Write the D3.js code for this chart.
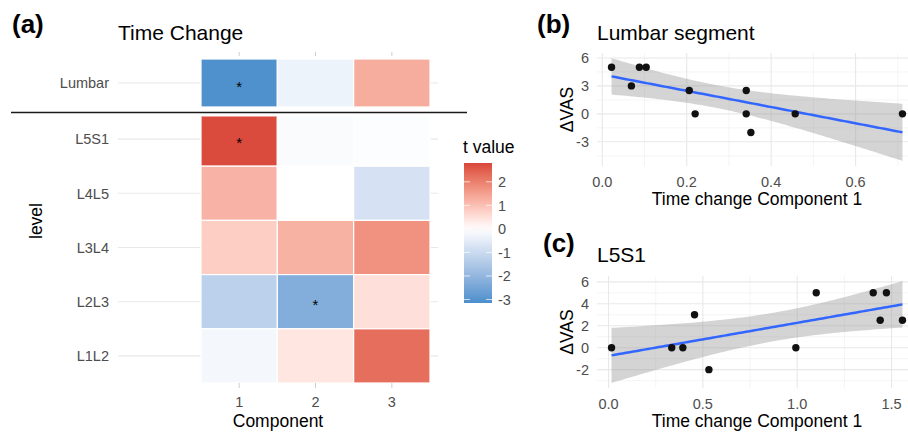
<!DOCTYPE html>
<html><head><meta charset="utf-8">
<script src="https://cdn.jsdelivr.net/npm/d3@7"></script>
<style>body{margin:0;background:#fff} text{font-family:"Liberation Sans",Arial,Helvetica,sans-serif}</style>
</head><body><svg id="c" width="908" height="433"></svg>
<script>
// ---------- data ----------
const components = ["1", "2", "3"];
const topLevels = ["Lumbar"];
const levels = ["L5S1", "L4L5", "L3L4", "L2L3", "L1L2"];
const tLumbar = [-3.1, -0.33, 1.3];
const tL5S1 = [2.75, -0.12, -0.05];
const tL4L5 = [1.2, 0.0, -0.77];
const tL3L4 = [0.78, 1.22, 1.73];
const tL2L3 = [-1.25, -2.27, 0.5];
const tL1L2 = [-0.2, 0.39, 2.26];
const significant = [["Lumbar", "1"], ["L5S1", "1"], ["L2L3", "2"]];
const legendTicks = [-3, -2, -1, 0, 1, 2];
const tLimits = [-3.15, 2.8];

const lumbarX = [0.022, 0.069, 0.088, 0.104, 0.206, 0.22, 0.341, 0.341, 0.352, 0.457, 0.711];
const lumbarY = [5, 3, 5, 5, 2.5, 0, 2.5, 0, -2, 0, 0];
const l5s1X = [0.016, 0.335, 0.394, 0.456, 0.532, 0.993, 1.101, 1.403, 1.44, 1.473, 1.558];
const l5s1Y = [0, 0, 0, 3, -2, 0, 5, 5, 2.5, 5, 2.5];
const lumbarXTicks = [0, 0.2, 0.4, 0.6];
const lumbarYTicks = [-3, 0, 3, 6];
const l5s1XTicks = [0, 0.5, 1, 1.5];
const l5s1YTicks = [-2, 0, 2, 4, 6];

// ---------- setup ----------
const svg = d3.select("#c");
const GRID = "#e8e8e8", TICKTXT = "#4d4d4d";
const color = d3.scaleLinear().domain([tLimits[0], 0, tLimits[1]])
  .range(["#4a8fcc", "#ffffff", "#d9463a"]).interpolate(d3.interpolateLab).clamp(true);

function txt(g, x, y, s, opts = {}) {
  const t = g.append("text").attr("x", x).attr("y", y).text(s)
    .attr("font-size", opts.size || 14).attr("fill", opts.fill || "#1a1a1a");
  if (opts.anchor) t.attr("text-anchor", opts.anchor);
  if (opts.weight) t.attr("font-weight", opts.weight);
  if (opts.rotate) t.attr("transform", `rotate(-90,${x},${y})`);
  return t;
}

// ---------- panel (a): heatmap ----------
const rows = { Lumbar: tLumbar, L5S1: tL5S1, L4L5: tL4L5, L3L4: tL3L4, L2L3: tL2L3, L1L2: tL1L2 };
const x = d3.scaleBand().domain(components).range([201, 430]);
const yTop = d3.scaleBand().domain(topLevels).range([59, 107]);
const yBot = d3.scaleBand().domain(levels).range([112, 383]);
const gridX0 = 118, gridX1 = 438;

const ga = svg.append("g");
txt(ga, 12, 33, "(a)", { size: 26, weight: "bold", fill: "#000" });
txt(ga, 118, 40, "Time Change", { size: 21, fill: "#000" });

function heatPanel(yScale, names, clipTop) {
  const g = ga.append("g");
  g.selectAll(".gl").data(names).join("line")
    .attr("x1", gridX0).attr("x2", gridX1)
    .attr("y1", d => yScale(d) + yScale.bandwidth() / 2)
    .attr("y2", d => yScale(d) + yScale.bandwidth() / 2)
    .attr("stroke", GRID).attr("stroke-width", 1.1);
  names.forEach(n => txt(g, 109, yScale(n) + yScale.bandwidth() / 2, n, { size: 14.5, fill: TICKTXT, anchor: "end" }).attr("dy", "0.36em"));
  const cells = [];
  names.forEach(n => components.forEach((c, i) => cells.push({ level: n, comp: c, t: rows[n][i] })));
  const id = "clip" + names[0];
  svg.append("clipPath").attr("id", id).append("rect")
    .attr("x", 0).attr("y", clipTop).attr("width", 908).attr("height", 433);
  g.append("g").attr("clip-path", `url(#${id})`).selectAll("rect").data(cells).join("rect")
    .attr("x", d => x(d.comp)).attr("y", d => yScale(d.level))
    .attr("width", x.bandwidth()).attr("height", yScale.bandwidth())
    .attr("fill", d => color(d.t)).attr("stroke", "#fff").attr("stroke-width", 1.2);
  significant.filter(s => names.includes(s[0])).forEach(s => {
    txt(g, x(s[1]) + x.bandwidth() / 2, yScale(s[0]) + yScale.bandwidth() / 2 + 8.5, "*", { size: 15, fill: "#000", anchor: "middle" });
  });
  return g;
}
heatPanel(yTop, topLevels, 0);
heatPanel(yBot, levels, 116.5);

components.forEach(c => {
  const cx = x(c) + x.bandwidth() / 2;
  ga.append("line").attr("x1", cx).attr("x2", cx).attr("y1", 52).attr("y2", 56).attr("stroke", "#cfcfcf");
  ga.append("line").attr("x1", cx).attr("x2", cx).attr("y1", 383).attr("y2", 388).attr("stroke", "#cfcfcf");
  txt(ga, cx, 407, c, { size: 14.5, fill: TICKTXT, anchor: "middle" });
});
txt(ga, (gridX0 + gridX1) / 2, 427, "Component", { size: 17.5, fill: "#000", anchor: "middle" });
txt(ga, 42, 221, "level", { size: 17.5, fill: "#000", anchor: "middle", rotate: true });
ga.append("line").attr("x1", 11).attr("x2", 467).attr("y1", 112.5).attr("y2", 112.5)
  .attr("stroke", "#1a1a1a").attr("stroke-width", 1.6);

// legend
const lg = svg.append("g");
txt(lg, 463, 153, "t value", { size: 17.5, fill: "#000" });
const ly = d3.scaleLinear().domain(tLimits).range([303, 163]);
const grad = svg.append("defs").append("linearGradient").attr("id", "tg")
  .attr("x1", 0).attr("y1", 1).attr("x2", 0).attr("y2", 0);
d3.range(0, 1.0001, 0.05).forEach(f => {
  const v = tLimits[0] + f * (tLimits[1] - tLimits[0]);
  grad.append("stop").attr("offset", f).attr("stop-color", color(v));
});
lg.append("rect").attr("x", 464).attr("y", 163).attr("width", 28).attr("height", 140).attr("fill", "url(#tg)");
legendTicks.forEach(v => {
  lg.append("line").attr("x1", 464).attr("x2", 470).attr("y1", ly(v)).attr("y2", ly(v)).attr("stroke", "#fff").attr("stroke-opacity", 0.7);
  lg.append("line").attr("x1", 486).attr("x2", 492).attr("y1", ly(v)).attr("y2", ly(v)).attr("stroke", "#fff").attr("stroke-opacity", 0.7);
  txt(lg, 498, ly(v), String(v), { size: 14.5, fill: TICKTXT }).attr("dy", "0.36em");
});

// ---------- scatter panels ----------
const TCRIT = 2.262157; // t quantile 0.975, df = 9
function fit(xs, ys) {
  const n = xs.length, mx = d3.mean(xs), my = d3.mean(ys);
  let sxy = 0, sxx = 0;
  xs.forEach((xv, i) => { sxy += (xv - mx) * (ys[i] - my); sxx += (xv - mx) ** 2; });
  const b = sxy / sxx, a = my - b * mx;
  let sse = 0; xs.forEach((xv, i) => { sse += (ys[i] - a - b * xv) ** 2; });
  const s = Math.sqrt(sse / (n - 2));
  const [x0, x1] = d3.extent(xs);
  return d3.range(0, 81).map(k => {
    const xv = x0 + (x1 - x0) * k / 80, yv = a + b * xv;
    const se = s * Math.sqrt(1 / n + (xv - mx) ** 2 / sxx);
    return { x: xv, y: yv, lo: yv - TCRIT * se, hi: yv + TCRIT * se };
  });
}
function expand(ext) { const r = ext[1] - ext[0]; return [ext[0] - 0.05 * r, ext[1] + 0.05 * r]; }

function scatter(o) {
  const g = svg.append("g");
  const pts = fit(o.xs, o.ys);
  const xd = expand(d3.extent(o.xs));
  const yd = expand([Math.min(d3.min(pts, d => d.lo), d3.min(o.ys)), Math.max(d3.max(pts, d => d.hi), d3.max(o.ys))]);
  const sx = d3.scaleLinear().domain(xd).range([597, 917]);
  const sy = d3.scaleLinear().domain(yd).range(o.yr);
  const [top, bot] = [o.yr[1], o.yr[0]];
  const xt = o.xticks, yt = o.yticks;
  const xstep = xt[1] - xt[0], ystep = yt[1] - yt[0];
  const xminor = d3.range(xt[0] - xstep / 2, xd[1], xstep).filter(v => v > xd[0]);
  const yminor = d3.range(yt[0] - ystep / 2, yd[1], ystep).filter(v => v > yd[0]);
  g.selectAll(".xm").data(xminor).join("line").attr("x1", d => sx(d)).attr("x2", d => sx(d))
    .attr("y1", top).attr("y2", bot).attr("stroke", "#f1f1f1").attr("stroke-width", 0.8);
  g.selectAll(".ym").data(yminor).join("line").attr("y1", d => sy(d)).attr("y2", d => sy(d))
    .attr("x1", 597).attr("x2", 917).attr("stroke", "#f1f1f1").attr("stroke-width", 0.8);
  g.selectAll(".xg").data(xt).join("line").attr("x1", d => sx(d)).attr("x2", d => sx(d))
    .attr("y1", top).attr("y2", bot).attr("stroke", GRID).attr("stroke-width", 1.1);
  g.selectAll(".yg").data(yt).join("line").attr("y1", d => sy(d)).attr("y2", d => sy(d))
    .attr("x1", 597).attr("x2", 917).attr("stroke", GRID).attr("stroke-width", 1.1);
  g.append("path").datum(pts).attr("d", d3.area().x(d => sx(d.x)).y0(d => sy(d.lo)).y1(d => sy(d.hi)))
    .attr("fill", "#999999").attr("fill-opacity", 0.42);
  g.append("path").datum(pts).attr("d", d3.line().x(d => sx(d.x)).y(d => sy(d.y)))
    .attr("fill", "none").attr("stroke", "#3366FF").attr("stroke-width", 2.5);
  g.selectAll("circle").data(o.xs).join("circle").attr("cx", d => sx(d)).attr("cy", (d, i) => sy(o.ys[i]))
    .attr("r", 3.7).attr("fill", "#111");
  xt.forEach(v => txt(g, sx(v), bot + 21, o.xfmt(v), { size: 14.5, fill: TICKTXT, anchor: "middle" }));
  yt.forEach(v => txt(g, 589, sy(v), String(v), { size: 14.5, fill: TICKTXT, anchor: "end" }).attr("dy", "0.36em"));
  txt(g, 757, bot + 39, "Time change Component 1", { size: 17.5, fill: "#000", anchor: "middle" });
  txt(g, 573, (top + bot) / 2, "\u0394VAS", { size: 17.5, fill: "#000", anchor: "middle", rotate: true });
  txt(g, 597, o.titleY, o.title, { size: 21, fill: "#000" });
  txt(g, o.tagX, o.tagY, o.tag, { size: 26, weight: "bold", fill: "#000" });
}
scatter({ xs: lumbarX, ys: lumbarY, xticks: lumbarXTicks, yticks: lumbarYTicks, yr: [166, 53],
  xfmt: d3.format(".1f"), title: "Lumbar segment", titleY: 40, tag: "(b)", tagX: 537, tagY: 33 });
scatter({ xs: l5s1X, ys: l5s1Y, xticks: l5s1XTicks, yticks: l5s1YTicks, yr: [388, 276],
  xfmt: d3.format(".1f"), title: "L5S1", titleY: 262, tag: "(c)", tagX: 543, tagY: 252 });
</script></body></html>
